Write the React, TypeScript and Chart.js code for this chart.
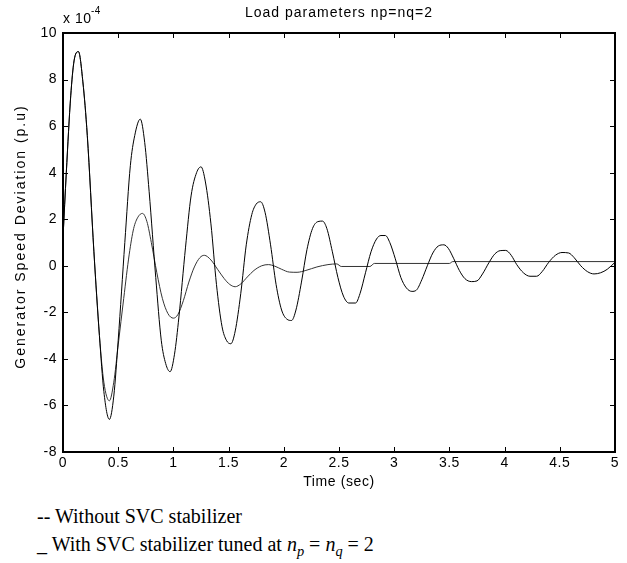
import React, { useEffect, useRef } from 'react';
import { Chart, registerables } from 'chart.js';

Chart.register(...registerables);

// Without SVC stabilizer (x 1e-4 p.u.)
const timeA = [0, 0.03, 0.07, 0.1, 0.14, 0.18, 0.22, 0.28, 0.33, 0.37, 0.42, 0.46, 0.5, 0.56, 0.61, 0.65, 0.7, 0.74, 0.78, 0.84, 0.89, 0.93, 0.97, 1.01, 1.05, 1.11, 1.16, 1.21, 1.25, 1.29, 1.34, 1.39, 1.44, 1.48, 1.52, 1.56, 1.61, 1.66, 1.71, 1.75, 1.79, 1.83, 1.88, 1.93, 1.98, 2.03, 2.07, 2.11, 2.16, 2.21, 2.26, 2.31, 2.35, 2.39, 2.44, 2.49, 2.54, 2.59, 2.65, 2.69, 2.74, 2.79, 2.84, 2.88, 2.92, 2.96, 3.01, 3.06, 3.11, 3.16, 3.2, 3.25, 3.3, 3.35, 3.4, 3.45, 3.49, 3.54, 3.59, 3.64, 3.7, 3.75, 3.8, 3.86, 3.91, 3.96, 4.01, 4.06, 4.11, 4.17, 4.23, 4.29, 4.34, 4.4, 4.46, 4.52, 4.58, 4.63, 4.69, 4.75, 4.81, 4.87, 4.93, 5.0];
const speedA = [1.2, 4.0, 7.3, 8.8, 9.2, 7.9, 5.6, 0.6, -3.0, -5.4, -6.6, -5.6, -3.2, 1.0, 4.3, 5.6, 6.3, 5.3, 3.2, -0.5, -3.2, -4.2, -4.55, -3.8, -2.2, 0.8, 3.0, 4.0, 4.25, 3.6, 1.8, -0.8, -2.6, -3.2, -3.35, -2.8, -1.2, 0.9, 2.2, 2.65, 2.75, 2.3, 0.9, -0.8, -1.9, -2.3, -2.35, -1.9, -0.7, 0.7, 1.6, 1.9, 1.92, 1.6, 0.6, -0.5, -1.3, -1.6, -1.6, -1.2, -0.3, 0.6, 1.15, 1.3, 1.3, 1.0, 0.3, -0.5, -0.95, -1.1, -1.05, -0.6, 0.0, 0.55, 0.85, 0.9, 0.75, 0.3, -0.2, -0.55, -0.68, -0.65, -0.35, 0.15, 0.5, 0.65, 0.66, 0.45, 0.05, -0.3, -0.45, -0.45, -0.25, 0.15, 0.45, 0.57, 0.55, 0.35, 0.0, -0.25, -0.35, -0.3, -0.15, 0.15];

// With SVC stabilizer tuned at np = nq = 2 (x 1e-4 p.u.)
const timeB = [0, 0.03, 0.07, 0.1, 0.14, 0.18, 0.22, 0.28, 0.33, 0.37, 0.42, 0.46, 0.5, 0.55, 0.6, 0.64, 0.68, 0.72, 0.76, 0.8, 0.85, 0.9, 0.95, 1.0, 1.04, 1.09, 1.14, 1.19, 1.24, 1.28, 1.34, 1.4, 1.46, 1.51, 1.56, 1.61, 1.67, 1.73, 1.8, 1.86, 1.92, 1.98, 2.05, 2.12, 2.2, 2.3, 2.4, 2.48, 2.52, 2.78, 2.82, 3.5, 3.53, 5.0];
const speedB = [1.2, 4.0, 7.3, 8.8, 9.2, 7.9, 5.6, 0.6, -3.0, -5.0, -5.8, -5.0, -3.4, -1.4, 0.5, 1.6, 2.1, 2.25, 1.9, 1.0, -0.3, -1.4, -2.05, -2.25, -2.1, -1.5, -0.7, -0.05, 0.35, 0.45, 0.25, -0.15, -0.55, -0.8, -0.9, -0.78, -0.48, -0.2, 0.0, 0.05, -0.02, -0.15, -0.27, -0.28, -0.2, -0.05, 0.05, 0.08, -0.03, -0.03, 0.1, 0.1, 0.18, 0.18];

const xTickValues = [0, 0.5, 1, 1.5, 2, 2.5, 3, 3.5, 4, 4.5, 5];
const yTickValues = [-8, -6, -4, -2, 0, 2, 4, 6, 8, 10];

const chartTitle = 'Load parameters np=nq=2';
const xTitle = 'Time (sec)';
const yTitle = 'Generator Speed Deviation (p.u)';

const SANS = '"Liberation Sans", Arial, Helvetica, sans-serif';

const framePlugin = {
  id: 'matlabFrame',
  beforeDraw(chart: any) {
    chart.ctx.letterSpacing = '0.5px';
  },
  afterDraw(chart: any) {
    const { ctx, chartArea: a, scales } = chart;
    const xs = scales.x;
    const ys = scales.y;
    ctx.save();
    ctx.letterSpacing = '0px';
    ctx.strokeStyle = '#000';
    ctx.lineWidth = 2;
    ctx.strokeRect(a.left, a.top, a.right - a.left, a.bottom - a.top);
    ctx.lineWidth = 1;
    ctx.beginPath();
    const tl = 5;
    xs.ticks.forEach((t: any) => {
      const px = Math.round(xs.getPixelForValue(t.value)) + 0.5;
      ctx.moveTo(px, a.bottom);
      ctx.lineTo(px, a.bottom - tl);
      ctx.moveTo(px, a.top);
      ctx.lineTo(px, a.top + tl);
    });
    ys.ticks.forEach((t: any) => {
      const py = Math.round(ys.getPixelForValue(t.value)) + 0.5;
      ctx.moveTo(a.left, py);
      ctx.lineTo(a.left + tl, py);
      ctx.moveTo(a.right, py);
      ctx.lineTo(a.right - tl, py);
    });
    ctx.stroke();

    ctx.fillStyle = '#000';
    const cx = (a.left + a.right) / 2;
    // title
    ctx.font = `14px ${SANS}`;
    ctx.letterSpacing = '1px';
    ctx.textAlign = 'center';
    ctx.textBaseline = 'alphabetic';
    ctx.fillText(chartTitle, cx, 17);
    // exponent
    ctx.letterSpacing = '0.5px';
    ctx.textAlign = 'left';
    ctx.fillText('x 10', a.left, 23);
    ctx.font = `10px ${SANS}`;
    ctx.fillText('-4', a.left + 28, 14);
    // x title
    ctx.font = `14px ${SANS}`;
    ctx.letterSpacing = '0.6px';
    ctx.textAlign = 'center';
    ctx.textBaseline = 'middle';
    ctx.fillText(xTitle, cx, 482);
    // y title
    ctx.save();
    ctx.translate(21, (a.top + a.bottom) / 2 - 6);
    ctx.rotate(-Math.PI / 2);
    ctx.letterSpacing = '2px';
    ctx.fillText(yTitle, 0, 0);
    ctx.restore();
    ctx.restore();
  },
};

export default function App() {
  const canvasRef = useRef<HTMLCanvasElement | null>(null);

  useEffect(() => {
    const canvas = canvasRef.current;
    if (!canvas) return;
    const chart = new Chart(canvas, {
      type: 'line',
      data: {
        datasets: [
          {
            label: 'Without SVC stabilizer',
            data: timeA.map((t, i) => ({ x: t, y: speedA[i] })),
            borderColor: '#000',
            borderWidth: 1,
            pointRadius: 0,
            cubicInterpolationMode: 'monotone',
            fill: false,
          },
          {
            label: 'With SVC stabilizer',
            data: timeB.map((t, i) => ({ x: t, y: speedB[i] })),
            borderColor: '#333',
            borderWidth: 1,
            pointRadius: 0,
            cubicInterpolationMode: 'monotone',
            fill: false,
          },
        ],
      },
      options: {
        animation: false,
        responsive: false,
        devicePixelRatio: 1,
        layout: { padding: { left: 0, right: 12, top: 33, bottom: 0 } },
        plugins: {
          legend: { display: false },
          title: { display: false },
          tooltip: { enabled: false },
        },
        scales: {
          x: {
            type: 'linear',
            min: 0,
            max: 5,
            grid: { display: false, drawTicks: false },
            border: { display: false },
            afterBuildTicks: (s: any) => {
              s.ticks = xTickValues.map((v) => ({ value: v }));
            },
            afterFit: (s: any) => {
              s.height = 48;
            },
            ticks: {
              padding: 3,
              color: '#000',
              font: { family: SANS, size: 14 },
              maxRotation: 0,
              autoSkip: false,
              callback: (v: any) => String(v),
            },
          },
          y: {
            type: 'linear',
            min: -8,
            max: 10,
            grid: { display: false, drawTicks: false },
            border: { display: false },
            afterBuildTicks: (s: any) => {
              s.ticks = yTickValues.map((v) => ({ value: v }));
            },
            afterFit: (s: any) => {
              s.width = 63;
            },
            ticks: {
              padding: 6,
              color: '#000',
              font: { family: SANS, size: 14 },
              autoSkip: false,
              callback: (v: any) => String(v),
            },
          },
        },
      },
      plugins: [framePlugin],
    } as any);
    return () => chart.destroy();
  }, []);

  const serif = '"Liberation Serif", "Times New Roman", Times, serif';
  const subStyle: React.CSSProperties = { fontSize: '0.72em', verticalAlign: '-0.35em', lineHeight: 0, fontStyle: 'italic' };

  return (
    <div style={{ position: 'fixed', left: 0, top: 0, width: 627, height: 563, background: '#fff', overflow: 'hidden' }}>
      <canvas ref={canvasRef} width={627} height={500} style={{ display: 'block', width: 627, height: 500 }} />
      <div style={{ position: 'absolute', left: 37, top: 502, font: `20px ${serif}`, lineHeight: '28px', color: '#000', whiteSpace: 'nowrap' }}>
        <div>-- Without SVC stabilizer</div>
        <div>
          _ With SVC stabilizer tuned at <i>n</i><span style={subStyle}>p</span> = <i>n</i><span style={subStyle}>q</span> = 2
        </div>
      </div>
    </div>
  );
}
